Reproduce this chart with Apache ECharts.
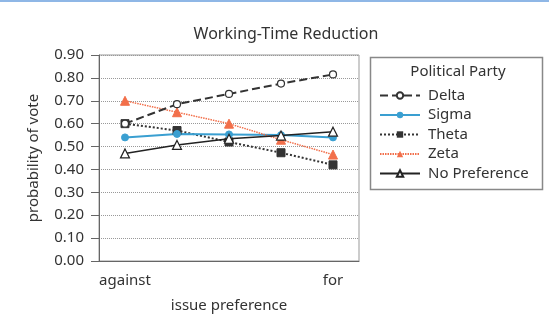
<!DOCTYPE html>
<html>
<head>
<meta charset="utf-8">
<script src="https://cdn.jsdelivr.net/npm/echarts@6/dist/echarts.min.js"></script>
<style>
  html, body { margin: 0; padding: 0; background: #fff; }
  #chart { width: 549px; height: 335px; }
</style>
</head>
<body>
<div id="chart"></div>
<script>
// Probability of vote by issue preference, per party
const categories = ['against', '', '', '', 'for'];
const yTicks = [0, 0.1, 0.2, 0.3, 0.4, 0.5, 0.6, 0.7, 0.8, 0.9];
const delta = [0.60, 0.685, 0.73, 0.775, 0.815];
const sigma = [0.54, 0.555, 0.553, 0.55, 0.54];
const theta = [0.60, 0.57, 0.52, 0.473, 0.42];
const zeta = [0.70, 0.65, 0.60, 0.53, 0.465];
const noPreference = [0.47, 0.507, 0.534, 0.548, 0.565];

const FONT = 'Noto Sans';
const TEXT = '#333';
const AXIS = '#666';
const chart = echarts.init(document.getElementById('chart'));

chart.setOption({
  animation: false,
  textStyle: { fontFamily: FONT },
  title: [
    {
      text: 'Working-Time Reduction',
      left: 281, top: 21, textAlign: 'center',
      textStyle: { fontFamily: FONT, fontSize: 16, fontWeight: 'normal', color: TEXT }
    },
    {
      text: 'Political Party',
      left: 453, top: 59, textAlign: 'center',
      textStyle: { fontFamily: FONT, fontSize: 15, fontWeight: 'normal', color: TEXT }
    }
  ],
  graphic: [
    { type: 'rect', left: 0, top: 0, shape: { width: 549, height: 2 }, style: { fill: '#8fb7e6' } },
    { type: 'rect', left: 368, top: 55, shape: { width: 172, height: 132 },
      style: { fill: 'none', stroke: '#888', lineWidth: 1.5 } }
  ],
  legend: {
    orient: 'vertical',
    left: 374, top: 83,
    itemWidth: 40, itemHeight: 8, itemGap: 4.5,
    textStyle: { fontFamily: FONT, fontSize: 15, color: TEXT, padding: [0, 0, 0, 3] },
    data: ['Delta', 'Sigma', 'Theta', 'Zeta', 'No Preference']
  },
  grid: {
    left: 99, right: 190, top: 55, bottom: 74,
    show: true, borderColor: '#999', borderWidth: 1
  },
  xAxis: [
    {
      type: 'category',
      data: categories,
      boundaryGap: true,
      name: 'issue preference',
      nameLocation: 'middle',
      nameGap: 37,
      nameTextStyle: { fontFamily: FONT, fontSize: 15, color: TEXT },
      axisLine: { lineStyle: { color: AXIS, width: 1 } },
      axisTick: { alignWithLabel: true, length: 7, lineStyle: { color: AXIS } },
      axisLabel: { fontFamily: FONT, fontSize: 15, color: TEXT, margin: 12, interval: 0 },
      splitLine: { show: false }
    },
    {
      // inner half of the crossing ticks
      type: 'category',
      data: categories,
      position: 'bottom',
      boundaryGap: true,
      axisLine: { show: false },
      axisTick: { inside: true, alignWithLabel: true, length: 7, lineStyle: { color: AXIS } },
      axisLabel: { show: false },
      splitLine: { show: false }
    }
  ],
  yAxis: {
    type: 'value',
    min: yTicks[0], max: yTicks[yTicks.length - 1], interval: 0.1,
    name: 'probability of vote',
    nameLocation: 'middle',
    nameGap: 58,
    nameTextStyle: { fontFamily: FONT, fontSize: 15, color: TEXT },
    axisLine: { show: true, lineStyle: { color: AXIS, width: 1 } },
    axisTick: { show: true, length: 8, lineStyle: { color: AXIS } },
    axisLabel: { fontFamily: FONT, fontSize: 15, color: TEXT, margin: 15,
      formatter: v => v.toFixed(2) },
    splitLine: { show: true, lineStyle: { color: '#999', type: [1, 1], width: 1 } }
  },
  series: [
    {
      name: 'Theta', type: 'line', data: theta, z: 2,
      symbol: 'rect', symbolSize: 8,
      lineStyle: { color: '#333', width: 2, type: [2, 2] },
      itemStyle: { color: '#333', borderColor: '#333' }
    },
    {
      name: 'Delta', type: 'line', data: delta, z: 3,
      symbol: 'circle', symbolSize: 7,
      lineStyle: { color: '#333', width: 2, type: [8, 4] },
      itemStyle: { color: '#fff', borderColor: '#333', borderWidth: 1.2 }
    },
    {
      name: 'Sigma', type: 'line', data: sigma, z: 2,
      symbol: 'circle', symbolSize: 7,
      lineStyle: { color: '#3a9fd1', width: 2 },
      itemStyle: { color: '#3a9fd1', borderColor: '#3a9fd1' }
    },
    {
      name: 'Zeta', type: 'line', data: zeta, z: 2,
      symbol: 'triangle', symbolSize: 9,
      lineStyle: { color: '#f26f4a', width: 1.5, type: [1.5, 1] },
      itemStyle: { color: '#f26f4a', borderColor: '#f26f4a' }
    },
    {
      name: 'No Preference', type: 'line', data: noPreference, z: 3,
      symbol: 'triangle', symbolSize: 9,
      lineStyle: { color: '#222', width: 1.5 },
      itemStyle: { color: '#fff', borderColor: '#222', borderWidth: 1.2 }
    }
  ]
});
</script>
</body>
</html>
